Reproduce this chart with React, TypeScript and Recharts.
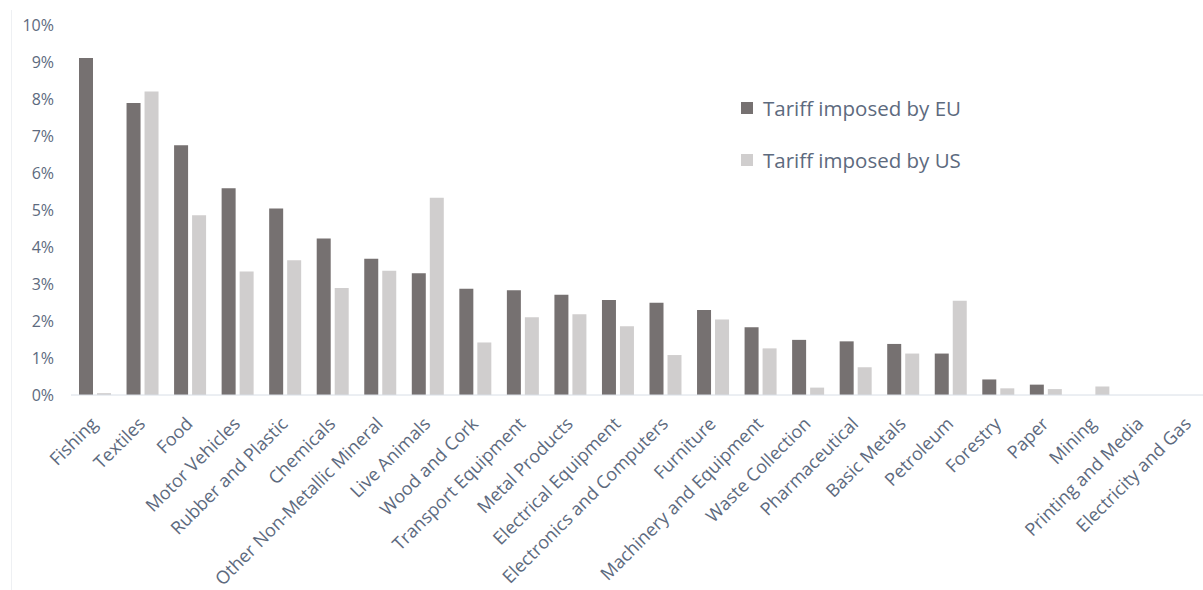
import React from "react";
import { BarChart, Bar, XAxis, YAxis } from "recharts";

const categories = [
  "Fishing", "Textiles", "Food", "Motor Vehicles", "Rubber and Plastic", "Chemicals",
  "Other Non-Metallic Mineral", "Live Animals", "Wood and Cork", "Transport Equipment",
  "Metal Products", "Electrical Equipment", "Electronics and Computers", "Furniture",
  "Machinery and Equipment", "Waste Collection", "Pharmaceutical", "Basic Metals",
  "Petroleum", "Forestry", "Paper", "Mining", "Printing and Media", "Electricity and Gas",
];
const euTariff = [9.11, 7.89, 6.75, 5.59, 5.04, 4.23, 3.68, 3.29, 2.87, 2.83, 2.71, 2.57, 2.49, 2.3, 1.83, 1.49, 1.45, 1.38, 1.12, 0.42, 0.28, 0, 0, 0];
const usTariff = [0.05, 8.2, 4.86, 3.34, 3.64, 2.89, 3.36, 5.33, 1.42, 2.1, 2.18, 1.86, 1.08, 2.04, 1.26, 0.2, 0.75, 1.12, 2.55, 0.18, 0.16, 0.23, 0, 0];
const yTicks = [0, 1, 2, 3, 4, 5, 6, 7, 8, 9, 10];
const seriesNames = ["Tariff imposed by EU", "Tariff imposed by US"];
const seriesColors = ["#767171", "#d0cece"];

const data = categories.map((name, i) => ({ name, eu: euTariff[i], us: usTariff[i] }));

const FONT = "'Open Sans', sans-serif";
const TEXT = "#5d6a7e";

const XTick = (props: any) => {
  const { x, y, payload } = props;
  const ax = x + 4;
  const ay = y + 22;
  return (
    <text
      x={ax}
      y={ay}
      transform={`rotate(-45, ${ax}, ${ay})`}
      textAnchor="end"
      fontFamily={FONT}
      fontSize={18}
      fill={TEXT}
    >
      {payload.value}
    </text>
  );
};

export default function App() {
  return (
    <div style={{ position: "absolute", left: 0, top: 0, width: 1203, height: 590, overflow: "hidden", background: "#fff" }}>
      <div style={{ position: "absolute", left: 11, top: 10, width: 1, height: 580, background: "#eef0f3" }} />
      <BarChart
        width={1215}
        height={590}
        data={data}
        margin={{ top: 25, right: 3, left: 0, bottom: 0 }}
        barSize={14}
        barGap={4}
      >
        <YAxis
          domain={[0, 10]}
          ticks={yTicks}
          width={71}
          axisLine={false}
          tickLine={false}
          tickSize={0}
          tickMargin={17}
          tickFormatter={(v: number) => `${v}%`}
          tick={{ fontFamily: FONT, fontSize: 16, fill: TEXT }}
        />
        <XAxis
          dataKey="name"
          interval={0}
          height={195}
          tickLine={false}
          axisLine={{ stroke: "#d8dee6" }}
          tick={<XTick />}
        />
        <Bar dataKey="eu" name={seriesNames[0]} fill={seriesColors[0]} isAnimationActive={false} />
        <Bar dataKey="us" name={seriesNames[1]} fill={seriesColors[1]} isAnimationActive={false} />
      </BarChart>
      <div style={{ position: "absolute", left: 741, top: 82, fontFamily: FONT }}>
        {seriesNames.map((n, i) => (
          <div key={n} style={{ display: "flex", alignItems: "center", height: 52 }}>
            <span style={{ display: "inline-block", width: 12, height: 12, background: seriesColors[i], marginRight: 10 }} />
            <span style={{ fontSize: 20.5, color: TEXT }}>{n}</span>
          </div>
        ))}
      </div>
    </div>
  );
}
